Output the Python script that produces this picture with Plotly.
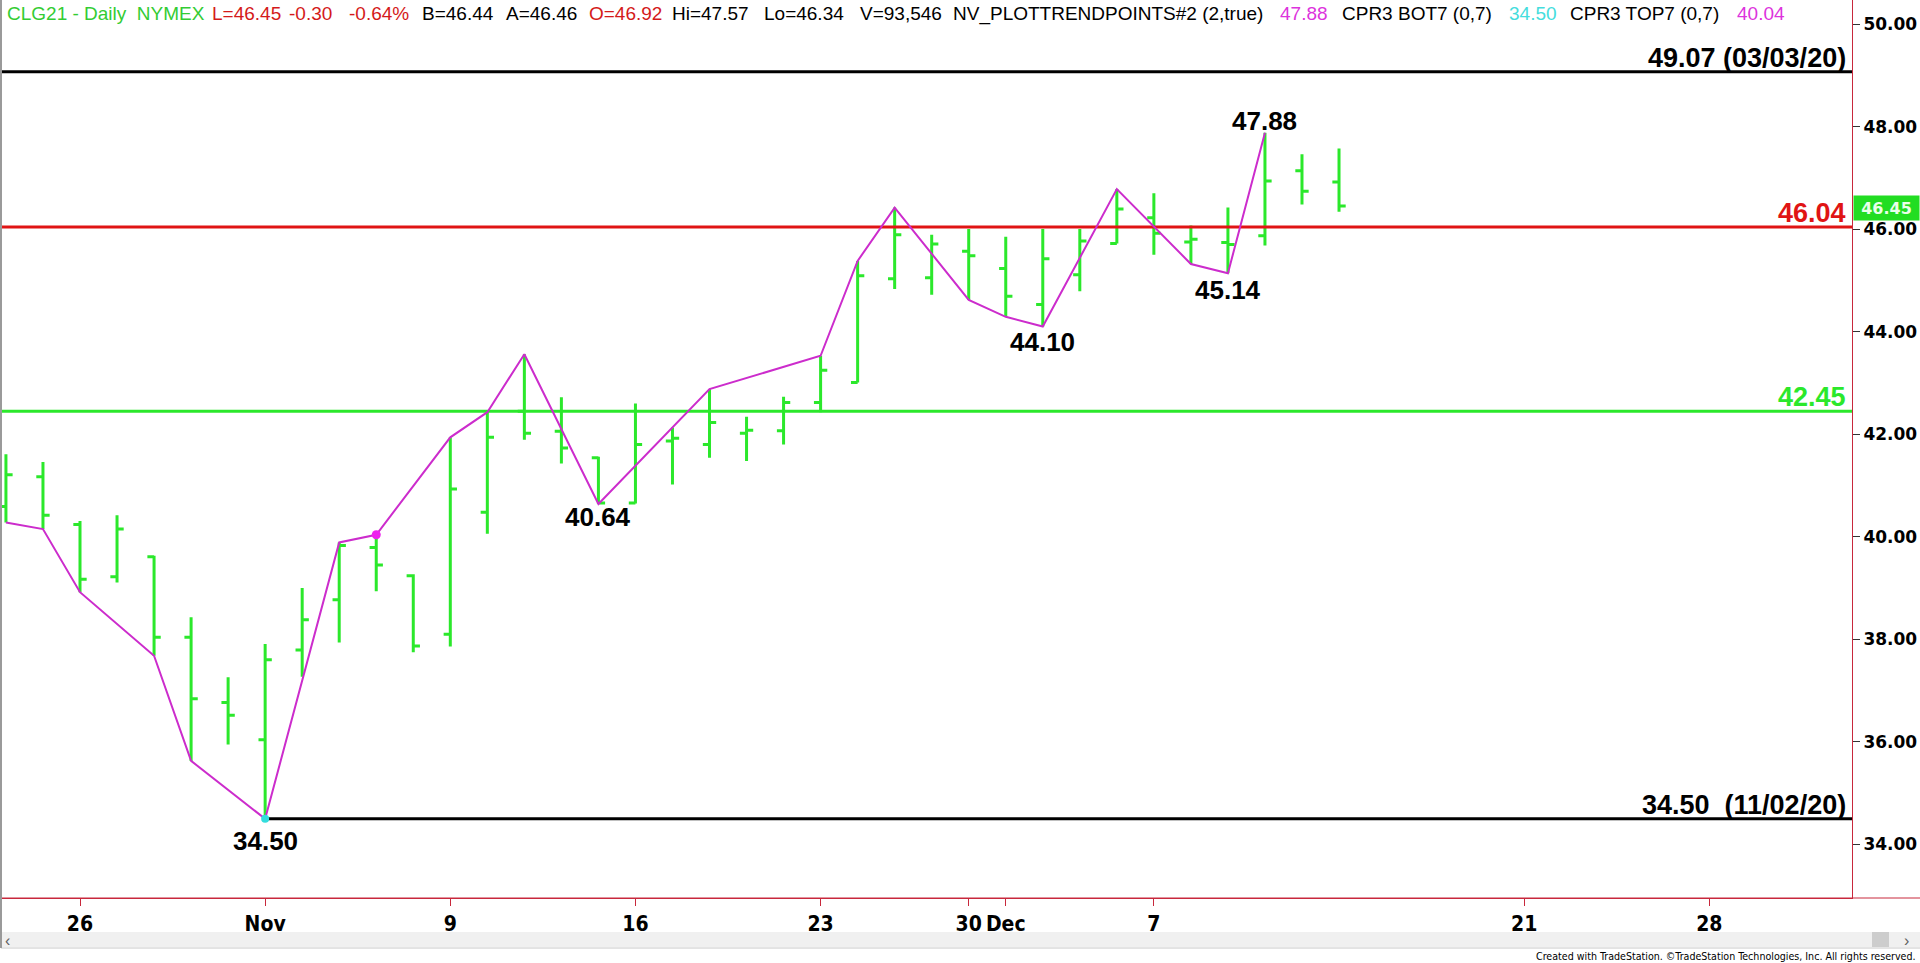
import plotly.graph_objects as go

# ---------------- data ----------------
dates = ["Oct 22", "Oct 23", "Oct 26", "Oct 27", "Oct 28", "Oct 29", "Oct 30",
         "Nov 2", "Nov 3", "Nov 4", "Nov 5", "Nov 6", "Nov 9", "Nov 10", "Nov 11",
         "Nov 12", "Nov 13", "Nov 16", "Nov 17", "Nov 18", "Nov 19", "Nov 20",
         "Nov 23", "Nov 24", "Nov 25", "Nov 27", "Nov 30", "Dec 1", "Dec 2",
         "Dec 3", "Dec 4", "Dec 7", "Dec 8", "Dec 9", "Dec 10", "Dec 11", "Dec 14"]
bar_index = list(range(-2, 35))  # trading-day index, 0 = Oct 26

opens = [40.59, 41.17, 40.24, 39.22, 39.61, 38.04, 36.77, 36.04, 37.79, 38.77, 39.79, 39.24,
         38.10, 40.48, 42.45, 42.06, 41.54, 40.66, 41.87, 41.80, 42.02, 42.07, 42.62, 43.01,
         45.03, 45.05, 45.57, 45.23, 44.53, 45.11, 45.72, 46.22, 45.75, 45.74, 45.87, 47.14, 46.92]
highs = [41.61, 41.46, 40.31, 40.42, 39.63, 38.43, 37.26, 37.91, 39.00, 39.89, 40.04, 39.27,
         41.94, 42.43, 43.56, 42.72, 41.56, 42.60, 42.13, 42.88, 42.34, 42.73, 43.53, 45.38,
         46.42, 45.89, 46.00, 45.85, 46.00, 46.00, 46.78, 46.70, 46.07, 46.42, 47.88, 47.46, 47.57]
lows = [40.28, 40.15, 38.92, 39.11, 37.68, 35.63, 35.95, 34.50, 37.27, 37.94, 38.94, 37.75,
        37.86, 40.06, 41.89, 41.43, 40.64, 40.65, 41.02, 41.54, 41.48, 41.80, 42.43, 43.01,
        44.83, 44.72, 44.62, 44.29, 44.10, 44.79, 45.72, 45.50, 45.32, 45.14, 45.68, 46.48, 46.34]
closes = [41.21, 40.42, 39.17, 40.15, 38.04, 36.84, 36.52, 37.60, 38.38, 39.83, 39.45, 37.87,
          40.93, 41.94, 42.02, 41.73, 40.66, 41.80, 41.92, 42.23, 42.08, 42.62, 43.25, 45.09,
          45.89, 45.71, 45.48, 44.69, 45.42, 45.77, 46.39, 45.92, 45.80, 45.70, 46.94, 46.74, 46.45]

trend_index = [-2, -1, 0, 2, 3, 5, 7, 8, 10, 11, 12, 14, 17, 20, 21, 22, 24, 25, 26, 28, 30, 31, 32]
trend_values = [40.28, 40.15, 38.92, 37.68, 35.63, 34.50, 39.89, 40.04, 41.94, 42.43, 43.56, 40.64,
                42.88, 43.53, 45.38, 46.42, 44.62, 44.29, 44.10, 46.78, 45.32, 45.14, 47.88]

swing_index = [5, 14, 26, 31, 32]
swing_values = [34.50, 40.64, 44.10, 45.14, 47.88]
swing_labels = ["34.50", "40.64", "44.10", "45.14", "47.88"]

level_high_2020 = 49.07
level_resist = 46.04
level_support = 42.45
level_low = 34.50
low_start_index = 5
last_price = 46.45
cpr_bot = 34.50
cpr_top = 40.04
cpr_bot_index = 5
cpr_top_index = 8

xtick_vals = [0, 5, 10, 15, 20, 24, 25, 29, 39, 44]
xtick_text = ["26", "Nov", "9", "16", "23", "30", "Dec", "7", "21", "28"]
ytick_vals = [34, 36, 38, 40, 42, 44, 46, 48, 50]

# ---------------- layout geometry ----------------
W, H = 1920, 963
ML, MR, MT, MB = 2, 68, 0, 65
PW, PH = W - ML - MR, H - MT - MB


def px_x(x):
    return (x - ML) / PW


def px_y(y):
    return (H - MB - y) / PH


X_RANGE = [-2.1064, 47.853]
Y_RANGE = [32.956, 50.468]

GREEN = "#2be82b"
RED = "#e01414"
MAGENTA = "#cc2ccc"
AXIS_RED = "#c8283c"
NARROW = "Liberation Sans Narrow, DejaVu Sans Condensed, Arial Narrow, sans-serif"
ARIAL = "Liberation Sans, Arial, sans-serif"
WIDE = "DejaVu Sans, Verdana, sans-serif"

fig = go.Figure()

fig.add_trace(go.Ohlc(
    x=bar_index, open=opens, high=highs, low=lows, close=closes,
    increasing=dict(line=dict(color=GREEN, width=3)),
    decreasing=dict(line=dict(color=GREEN, width=3)),
    tickwidth=0.18, showlegend=False, hoverinfo="skip",
))

# horizontal levels
fig.add_trace(go.Scatter(x=X_RANGE, y=[level_high_2020] * 2, mode="lines",
                         line=dict(color="black", width=3), showlegend=False, hoverinfo="skip"))
fig.add_trace(go.Scatter(x=X_RANGE, y=[level_resist] * 2, mode="lines",
                         line=dict(color=RED, width=3), showlegend=False, hoverinfo="skip"))
fig.add_trace(go.Scatter(x=X_RANGE, y=[level_support] * 2, mode="lines",
                         line=dict(color=GREEN, width=3), showlegend=False, hoverinfo="skip"))
fig.add_trace(go.Scatter(x=[low_start_index, X_RANGE[1]], y=[level_low] * 2, mode="lines",
                         line=dict(color="black", width=3), showlegend=False, hoverinfo="skip"))

# trend-point zigzag
fig.add_trace(go.Scatter(x=trend_index, y=trend_values, mode="lines",
                         line=dict(color=MAGENTA, width=2), showlegend=False, hoverinfo="skip"))
fig.add_trace(go.Scatter(x=[cpr_bot_index], y=[cpr_bot], mode="markers",
                         marker=dict(color="#33dddd", size=8), showlegend=False, hoverinfo="skip"))
fig.add_trace(go.Scatter(x=[cpr_top_index], y=[cpr_top], mode="markers",
                         marker=dict(color="#ee22ee", size=9), showlegend=False, hoverinfo="skip"))

annotations = []

# swing labels
swing_shift = [-22, -13, -15, -17, 12]
for xi, yv, lab, sh in zip(swing_index, swing_values, swing_labels, swing_shift):
    annotations.append(dict(x=xi, y=yv, xref="x", yref="y", text="<b>%s</b>" % lab,
                            showarrow=False, yshift=sh, xanchor="center", yanchor="middle",
                            font=dict(family=ARIAL, size=26, color="black")))

# level labels at right
right_edge = px_x(1848)
level_labels = [
    (level_high_2020, "49.07 (03/03/20)", "black"),
    (level_resist, "46.04", RED),
    (level_support, "42.45", GREEN),
    (level_low, "34.50\u00a0\u00a0(11/02/20)", "black"),
]
for yv, lab, col in level_labels:
    annotations.append(dict(x=right_edge, y=yv, xref="paper", yref="y", text="<b>%s</b>" % lab,
                            showarrow=False, xanchor="right", yanchor="bottom", yshift=-3,
                            font=dict(family=ARIAL, size=27, color=col)))

# last price box
annotations.append(dict(x=px_x(1853), y=last_price, xref="paper", yref="y",
                        text="<b>%.2f</b>" % last_price, showarrow=False,
                        xanchor="left", yanchor="middle", yshift=-2,
                        bgcolor="#22dd22", width=63, height=22, align="center",
                        font=dict(family=WIDE, size=16, color="#eaffea")))

# header
header_parts = [
    ("CLG21 - Daily  NYMEX", "#33cc33", 5),
    ("L=46.45", "#d41a1a", 210),
    ("-0.30", "#d41a1a", 287),
    ("-0.64%", "#d41a1a", 347),
    ("B=46.44", "black", 420),
    ("A=46.46", "black", 504),
    ("O=46.92", "#d41a1a", 587),
    ("Hi=47.57", "black", 670),
    ("Lo=46.34", "black", 762),
    ("V=93,546", "black", 858),
    ("NV_PLOTTRENDPOINTS#2 (2,true)", "black", 951),
    ("47.88", "#dd33dd", 1278),
    ("CPR3 BOT7 (0,7)", "black", 1340),
    ("34.50", "#44dddd", 1507),
    ("CPR3 TOP7 (0,7)", "black", 1568),
    ("40.04", "#dd33dd", 1735),
]
for txt, col, xp in header_parts:
    annotations.append(dict(x=px_x(xp), y=px_y(14), xref="paper", yref="paper", text=txt,
                            showarrow=False, xanchor="left", yanchor="middle",
                            font=dict(family=ARIAL, size=19, color=col)))

# footer / scrollbar glyphs
annotations.append(dict(x=px_x(1918), y=px_y(956), xref="paper", yref="paper",
                        text="Created with TradeStation. \u00a9TradeStation Technologies, Inc. All rights reserved.",
                        showarrow=False, xanchor="right", yanchor="middle",
                        font=dict(family=NARROW, size=10.6, color="black")))
annotations.append(dict(x=px_x(7), y=px_y(940), xref="paper", yref="paper", text="\u2039",
                        showarrow=False, xanchor="center", yanchor="middle",
                        font=dict(family=ARIAL, size=16, color="#606060")))
annotations.append(dict(x=px_x(1907), y=px_y(940), xref="paper", yref="paper", text="\u203a",
                        showarrow=False, xanchor="center", yanchor="middle",
                        font=dict(family=ARIAL, size=16, color="#606060")))

shapes = [
    # scrollbar band
    dict(type="rect", xref="paper", yref="paper", x0=px_x(2), x1=px_x(1920), y0=px_y(947), y1=px_y(932),
         fillcolor="#f0f0f0", line=dict(width=0), layer="below"),
    dict(type="rect", xref="paper", yref="paper", x0=px_x(1872), x1=px_x(1889), y0=px_y(947), y1=px_y(932),
         fillcolor="#cdcdcd", line=dict(width=0)),
    dict(type="line", xref="paper", yref="paper", x0=px_x(1), x1=px_x(1920), y0=px_y(948), y1=px_y(948),
         line=dict(color="#c8c8c8", width=1)),
    # left frame
    dict(type="line", xref="paper", yref="paper", x0=px_x(1), x1=px_x(1), y0=px_y(948), y1=px_y(0),
         line=dict(color="#9a9a9a", width=2)),
    # bottom border extended under the price scale
    dict(type="line", xref="paper", yref="paper", x0=0, x1=px_x(1920), y0=0, y1=0,
         line=dict(color=AXIS_RED, width=1)),
]

fig.update_layout(
    width=W, height=H,
    margin=dict(l=ML, r=MR, t=MT, b=MB, pad=0),
    paper_bgcolor="white", plot_bgcolor="white",
    showlegend=False,
    annotations=annotations,
    shapes=shapes,
    xaxis=dict(
        range=X_RANGE, showgrid=False, zeroline=False, rangeslider=dict(visible=False),
        tickmode="array", tickvals=xtick_vals, ticktext=["<b>%s</b>" % t for t in xtick_text],
        ticks="outside", ticklen=7, tickcolor=AXIS_RED, tickwidth=1,
        showline=True, linecolor=AXIS_RED, linewidth=1,
        tickfont=dict(family=NARROW, size=21, color="black"),
    ),
    yaxis=dict(
        range=Y_RANGE, side="right", showgrid=False, zeroline=False,
        tickmode="array", tickvals=ytick_vals, ticktext=["<b>%.2f</b>" % v for v in ytick_vals],
        ticks="outside", ticklen=7, tickcolor="#333333", tickwidth=1,
        showline=True, linecolor=AXIS_RED, linewidth=1,
        tickfont=dict(family=WIDE, size=17, color="black"),
    ),
)

fig.write_html("out.html", config={"displayModeBar": False},
               post_script="document.body.style.margin='0';document.body.style.overflow='hidden';")
